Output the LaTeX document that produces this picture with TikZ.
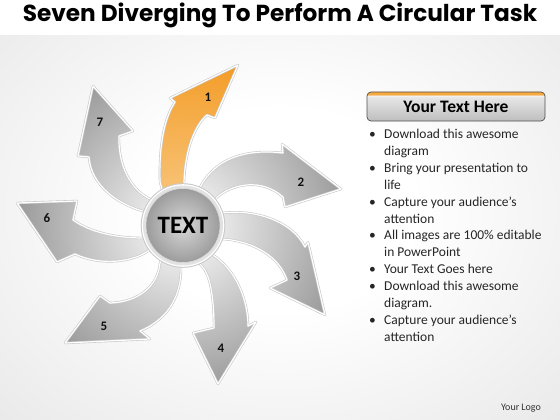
\documentclass[tikz,border=0pt]{standalone}
\usepackage{fontspec}
\setmainfont{Carlito}
\newfontfamily\titlefont{Poppins}
\definecolor{bgedge}{HTML}{E9E9E9}
\definecolor{grayin}{HTML}{FFFFFF}
\definecolor{grayout}{HTML}{979797}
\definecolor{orin}{RGB}{249,204,138}
\definecolor{orout}{RGB}{243,155,36}
\definecolor{discin}{HTML}{D8D8D8}
\definecolor{discout}{HTML}{9C9C9C}
\definecolor{ringc}{HTML}{E2E2E2}
\definecolor{edgec}{HTML}{C8C8C8}
\definecolor{hb}{HTML}{BEBEBE}
\definecolor{hm}{HTML}{E6E6E6}
\definecolor{hl}{HTML}{F4F4F4}
\definecolor{orstrip}{HTML}{F5A940}
\definecolor{hdrborder}{HTML}{505050}
\definecolor{numc}{HTML}{111111}
\pgfdeclareradialshading{bgshade}{\pgfpointorigin}{color(0bp)=(white); color(12bp)=(white); color(36bp)=(bgedge); color(50bp)=(bgedge)}
\pgfdeclareverticalshading{hdrshade}{100bp}{color(0bp)=(hb); color(25bp)=(hb); color(66bp)=(hm); color(69bp)=(hl); color(70.5bp)=(orstrip); color(75bp)=(orstrip); color(100bp)=(orstrip)}
\newcommand\bigarrow[3]{%
  \begin{scope}
    \clip #1;
    \shade[inner color=#2, outer color=#3] (183,225.5) circle (172);
  \end{scope}
  \draw[arrowedge] #1;
  \draw[arrowline] #1;}
\tikzset{
  arrowedge/.style={draw=edgec, line width=2.4pt, line join=round},
  arrowline/.style={draw=white, line width=1.2pt, line join=round},
  numlabel/.style={font=\bfseries\fontsize{13}{15}\selectfont, text=numc, inner sep=0pt},
}
\begin{document}
\begin{tikzpicture}[x=1pt,y=-1pt]
\useasboundingbox (0,0) rectangle (560,420);
\shade[shading=bgshade] (0,0) rectangle (560,420);
\fill[white] (0,0) rectangle (560,35);
\node (title) [font=\titlefont\bfseries\fontsize{23.2}{26}\selectfont, inner sep=0pt] at (280,15) {Seven Diverging To Perform A Circular Task};
% arrow 2
\bigarrow{(205,205) -- (215,199) .. controls (232,183) and (262,178) .. (283,197) -- (285,207) -- (341,189) -- (282,144) -- (283,153) .. controls (250,149) and (220,156) .. (203,182) -- (196,195) -- cycle}{grayin}{grayout}
% arrow 3
\bigarrow{(212,228) -- (222,213) .. controls (255,209) and (292,221) .. (305,247) -- (308,242) -- (325,315) -- (270,288) -- (287,280) .. controls (280,258) and (255,241) .. (222,239) -- (212,236) -- cycle}{grayin}{grayout}
% arrow 4
\bigarrow{(195,250) -- (200,264) .. controls (210,273) and (214,295) .. (214,328) -- (193,333) -- (218,384) -- (256,322) -- (248,326) .. controls (248,300) and (236,270) .. (213,255) -- (212,245) -- cycle}{grayin}{grayout}
% arrow 5
\bigarrow{(166,250) -- (160,263) .. controls (158,285) and (140,302) .. (110,303) -- (100,296) -- (65,343) -- (150,339) -- (140,331) .. controls (171,318) and (182,292) .. (181,265) -- (178,252) -- cycle}{grayin}{grayout}
% arrow 6
\bigarrow{(152,232) -- (143,238) .. controls (115,238) and (90,232) .. (73,220) -- (77,201) -- (17,203) -- (57,262) -- (75,254) .. controls (100,266) and (135,263) .. (152,248) -- (160,240) -- cycle}{grayin}{grayout}
% arrow 7
\bigarrow{(162,218) -- (150,213) .. controls (119,206) and (91,186) .. (89,157) -- (78,156) -- (93,86) -- (133,131) -- (119,136) .. controls (118,165) and (130,190) .. (152,200) -- (162,206) -- cycle}{grayin}{grayout}
% arrow 1
\bigarrow{(164,196) -- (160,182) .. controls (159,150) and (163,120) .. (175,102) -- (170,98) -- (238,65) -- (215,118) -- (207,115) .. controls (195,125) and (185,150) .. (184,182) -- (186,196) -- cycle}{orin}{orout}
% hub
\fill[edgec] (183,225.5) circle (42.3);
\fill[white] (183,225.5) circle (41.3);
\fill[ringc] (183,225.5) circle (40);
\node (hub) [circle, minimum size=74pt, inner sep=0pt, inner color=discin, outer color=discout, draw=white!85!black, line width=0.6pt, font=\bfseries\fontsize{25}{28}\selectfont] at (183,225.5) {TEXT};
% numbers
\node (n1) [numlabel] at (208,97) {1};
\node (n2) [numlabel] at (301,182) {2};
\node (n3) [numlabel] at (297,276) {3};
\node (n4) [numlabel] at (221,348) {4};
\node (n5) [numlabel] at (104,326) {5};
\node (n6) [numlabel] at (47,218) {6};
\node (n7) [numlabel] at (100,122) {7};
% right panel
\node (hdr) [rounded corners=4pt, draw=hdrborder, line width=0.7pt, shading=hdrshade, minimum width=178pt, minimum height=29pt, inner sep=0pt, font=\bfseries\fontsize{17.5}{20}\selectfont] at (456,106.5) {Your Text Here};
\node (list) [anchor=north west, inner sep=0pt, font=\fontsize{13.5}{16.9}\selectfont, text=black!85] at (369,126.5) {%
\begin{tabular}{@{}p{15pt}@{}l@{}}
\textbullet & Download this awesome\\
 & diagram\\
\textbullet & Bring your presentation to\\
 & life\\
\textbullet & Capture your audience’s\\
 & attention\\
\textbullet & All images are 100\% editable\\
 & in PowerPoint\\
\textbullet & Your Text Goes here\\
\textbullet & Download this awesome\\
 & diagram.\\
\textbullet & Capture your audience’s\\
 & attention
\end{tabular}};
\node (logo) [font=\fontsize{10}{12}\selectfont, text=black!80, inner sep=0pt] at (521,408) {Your Logo};
\end{tikzpicture}
\end{document}
